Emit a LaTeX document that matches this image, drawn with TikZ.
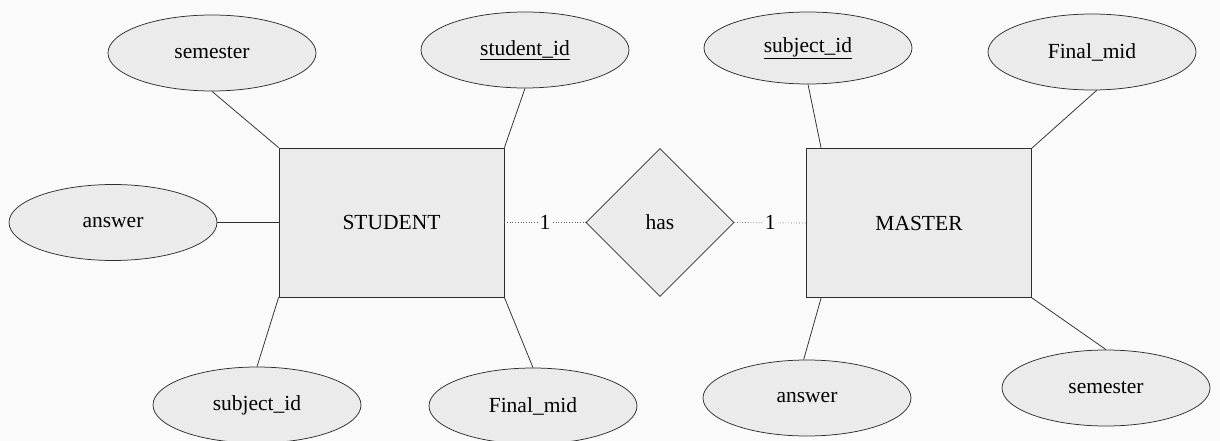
\documentclass[tikz,border=0pt]{standalone}
\usepackage{fontspec}
\setmainfont{Liberation Serif}
\usetikzlibrary{shapes.geometric,calc}
\definecolor{paper}{HTML}{FAFAFA}
\definecolor{shade}{HTML}{EBEBEB}
\definecolor{ink}{HTML}{2E2E2E}
\begin{document}
\begin{tikzpicture}[x=1pt,y=-1pt,
  every node/.style={font=\fontsize{21.5}{24}\selectfont, text=black},
  attr/.style={ellipse, draw=ink, fill=shade, line width=0.75pt,
    minimum width=208pt, minimum height=76pt, inner sep=0pt},
  entity/.style={rectangle, draw=ink, fill=shade, line width=0.75pt,
    minimum width=225pt, minimum height=149pt, inner sep=0pt},
  rel/.style={diamond, draw=ink, fill=shade, line width=0.75pt,
    minimum width=148pt, minimum height=148pt, inner sep=0pt},
  link/.style={draw=ink, line width=0.75pt},
  card/.style={draw=ink!75, dotted, line width=0.7pt},
  cardlabel/.style={fill=paper, inner sep=2pt}]

% page
\fill[paper] (0,0) rectangle (1220,441);
\useasboundingbox (0,0) rectangle (1220,441);

% entities and relationship
\node[entity] (stu) at (391.5,222.5) {STUDENT};
\node[entity] (mas) at (919,223) {MASTER};
\node[rel] (has) at (660,222.5) {has};

% STUDENT attributes
\node[attr] (s1) at (212,53) {semester};
\node[attr] (s2) at (525,50) {\underline{student\_id}};
\node[attr] (s3) at (113,222.5) {answer};
\node[attr] (s4) at (257,405) {subject\_id};
\node[attr] (s5) at (533,406) {Final\_mid};

% MASTER attributes
\node[attr, minimum height=72pt] (m1) at (808,48) {\underline{subject\_id}};
\node[attr] (m2) at (1092,52) {Final\_mid};
\node[attr] (m3) at (807,398) {answer};
\node[attr] (m4) at (1106,388) {semester};

% attribute links
\draw[link] (s1.south) -- (stu.north west);
\draw[link] (s2.south) -- (stu.north east);
\draw[link] (s3.east) -- (stu.west);
\draw[link] (stu.south west) -- (s4.north);
\draw[link] (stu.south east) -- (s5.north);
\draw[link] (m1.south) -- ($(mas.north west)+(15,0)$);
\draw[link] (m2.-83) -- (mas.north east);
\draw[link] ($(mas.south west)+(15,0)$) -- (m3.95);
\draw[link] (mas.south east) -- (m4.north);

% relationship with cardinalities
\draw[card] (stu.east) -- node[cardlabel] {1} (has.west);
\draw[card] (has.east) -- node[cardlabel] {1} (mas.west);
\end{tikzpicture}
\end{document}
